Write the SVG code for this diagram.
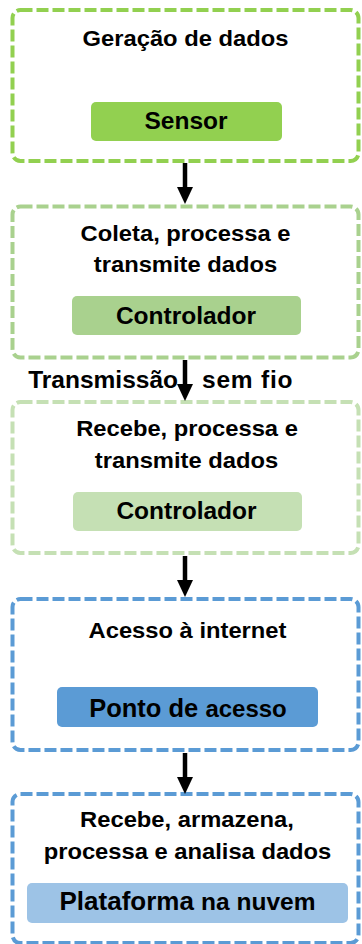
<svg xmlns="http://www.w3.org/2000/svg" width="362" height="944" viewBox="0 0 362 944">
  <defs>
    <style>
      .frame { fill: none; stroke-width: 4; stroke-dasharray: 12 4; }
      .title { font-family: "Liberation Sans", Arial, sans-serif; font-weight: bold; font-size: 22px; fill: #000; text-anchor: middle; }
      .label { font-family: "Liberation Sans", Arial, sans-serif; font-weight: bold; font-size: 24.5px; fill: #000; text-anchor: middle; }
      .note { font-family: "Liberation Sans", Arial, sans-serif; font-weight: bold; font-size: 24.5px; fill: #000; }
      .link { stroke: #000; stroke-width: 4.5; fill: none; }
    </style>
    <marker id="head" viewBox="0 0 17 16" refX="0" refY="8" markerWidth="17" markerHeight="16" markerUnits="userSpaceOnUse" orient="auto">
      <path d="M0,0 L17,8 L0,16 Z" fill="#000"/>
    </marker>
  </defs>

  <rect width="362" height="944" fill="#fff"/>

  <!-- Stage 1: data generation -->
  <g id="sensor-stage">
    <rect class="frame" x="12.5" y="10" width="346" height="151" rx="8" stroke="#92D050"/>
    <text class="title" transform="translate(185.5 46) scale(1.08 1)">Geração de dados</text>
    <rect x="91" y="102" width="191" height="39" rx="5" fill="#92D050"/>
    <text class="label" x="186" y="129">Sensor</text>
  </g>

  <!-- Stage 2: local controller -->
  <g id="controller-tx">
    <rect class="frame" x="12.5" y="206.5" width="346" height="151" rx="8" stroke="#A9D18E"/>
    <text class="title" transform="translate(185.5 240.5) scale(1.08 1)">Coleta, processa e</text>
    <text class="title" transform="translate(185.5 272) scale(1.08 1)">transmite dados</text>
    <rect x="72" y="296" width="229" height="39" rx="5" fill="#A9D18E"/>
    <text class="label" x="186" y="324">Controlador</text>
  </g>

  <!-- Stage 3: receiving controller -->
  <g id="controller-rx">
    <rect class="frame" x="12.5" y="402" width="346" height="151" rx="8" stroke="#C5E0B4"/>
    <text class="title" transform="translate(187 436) scale(1.08 1)">Recebe, processa e</text>
    <text class="title" transform="translate(186.5 467.5) scale(1.08 1)">transmite dados</text>
    <rect x="73" y="492" width="229" height="39" rx="5" fill="#C5E0B4"/>
    <text class="label" x="186.5" y="519">Controlador</text>
  </g>

  <!-- Stage 4: internet access -->
  <g id="access-point">
    <rect class="frame" x="12.5" y="599" width="346" height="151" rx="8" stroke="#5B9BD5"/>
    <text class="title" transform="translate(187.5 637.5) scale(1.08 1)">Acesso à internet</text>
    <rect x="57" y="687" width="261" height="40" rx="5" fill="#5B9BD5"/>
    <text class="label" x="188" y="716.5"><tspan font-size="25.5">Ponto de </tspan><tspan font-size="24">acesso</tspan></text>
  </g>

  <!-- Stage 5: cloud platform -->
  <g id="cloud-platform">
    <rect class="frame" x="12.5" y="794" width="346" height="149" rx="8" stroke="#5B9BD5"/>
    <text class="title" transform="translate(187 827) scale(1.08 1)">Recebe, armazena,</text>
    <text class="title" transform="translate(187.5 859) scale(1.08 1)">processa e analisa dados</text>
    <rect x="27" y="883" width="321" height="40" rx="5" fill="#9DC3E6"/>
    <text class="label" x="187.5" y="909.5"><tspan font-size="26">Plataforma </tspan><tspan font-size="24.5">na nuvem</tspan></text>
  </g>

  <!-- Connectors -->
  <g id="connectors">
    <line class="link" x1="185" y1="163" x2="185" y2="187" marker-end="url(#head)"/>
    <line class="link" x1="185" y1="360" x2="185" y2="384" marker-end="url(#head)"/>
    <line class="link" x1="185" y1="556" x2="185" y2="580" marker-end="url(#head)"/>
    <line class="link" x1="185" y1="753" x2="185" y2="777" marker-end="url(#head)"/>
    <text class="note" x="178" y="388" text-anchor="end">Transmissão</text>
    <text class="note" x="202" y="388" font-size="26" letter-spacing="0.8">sem fio</text>
  </g>
</svg>
